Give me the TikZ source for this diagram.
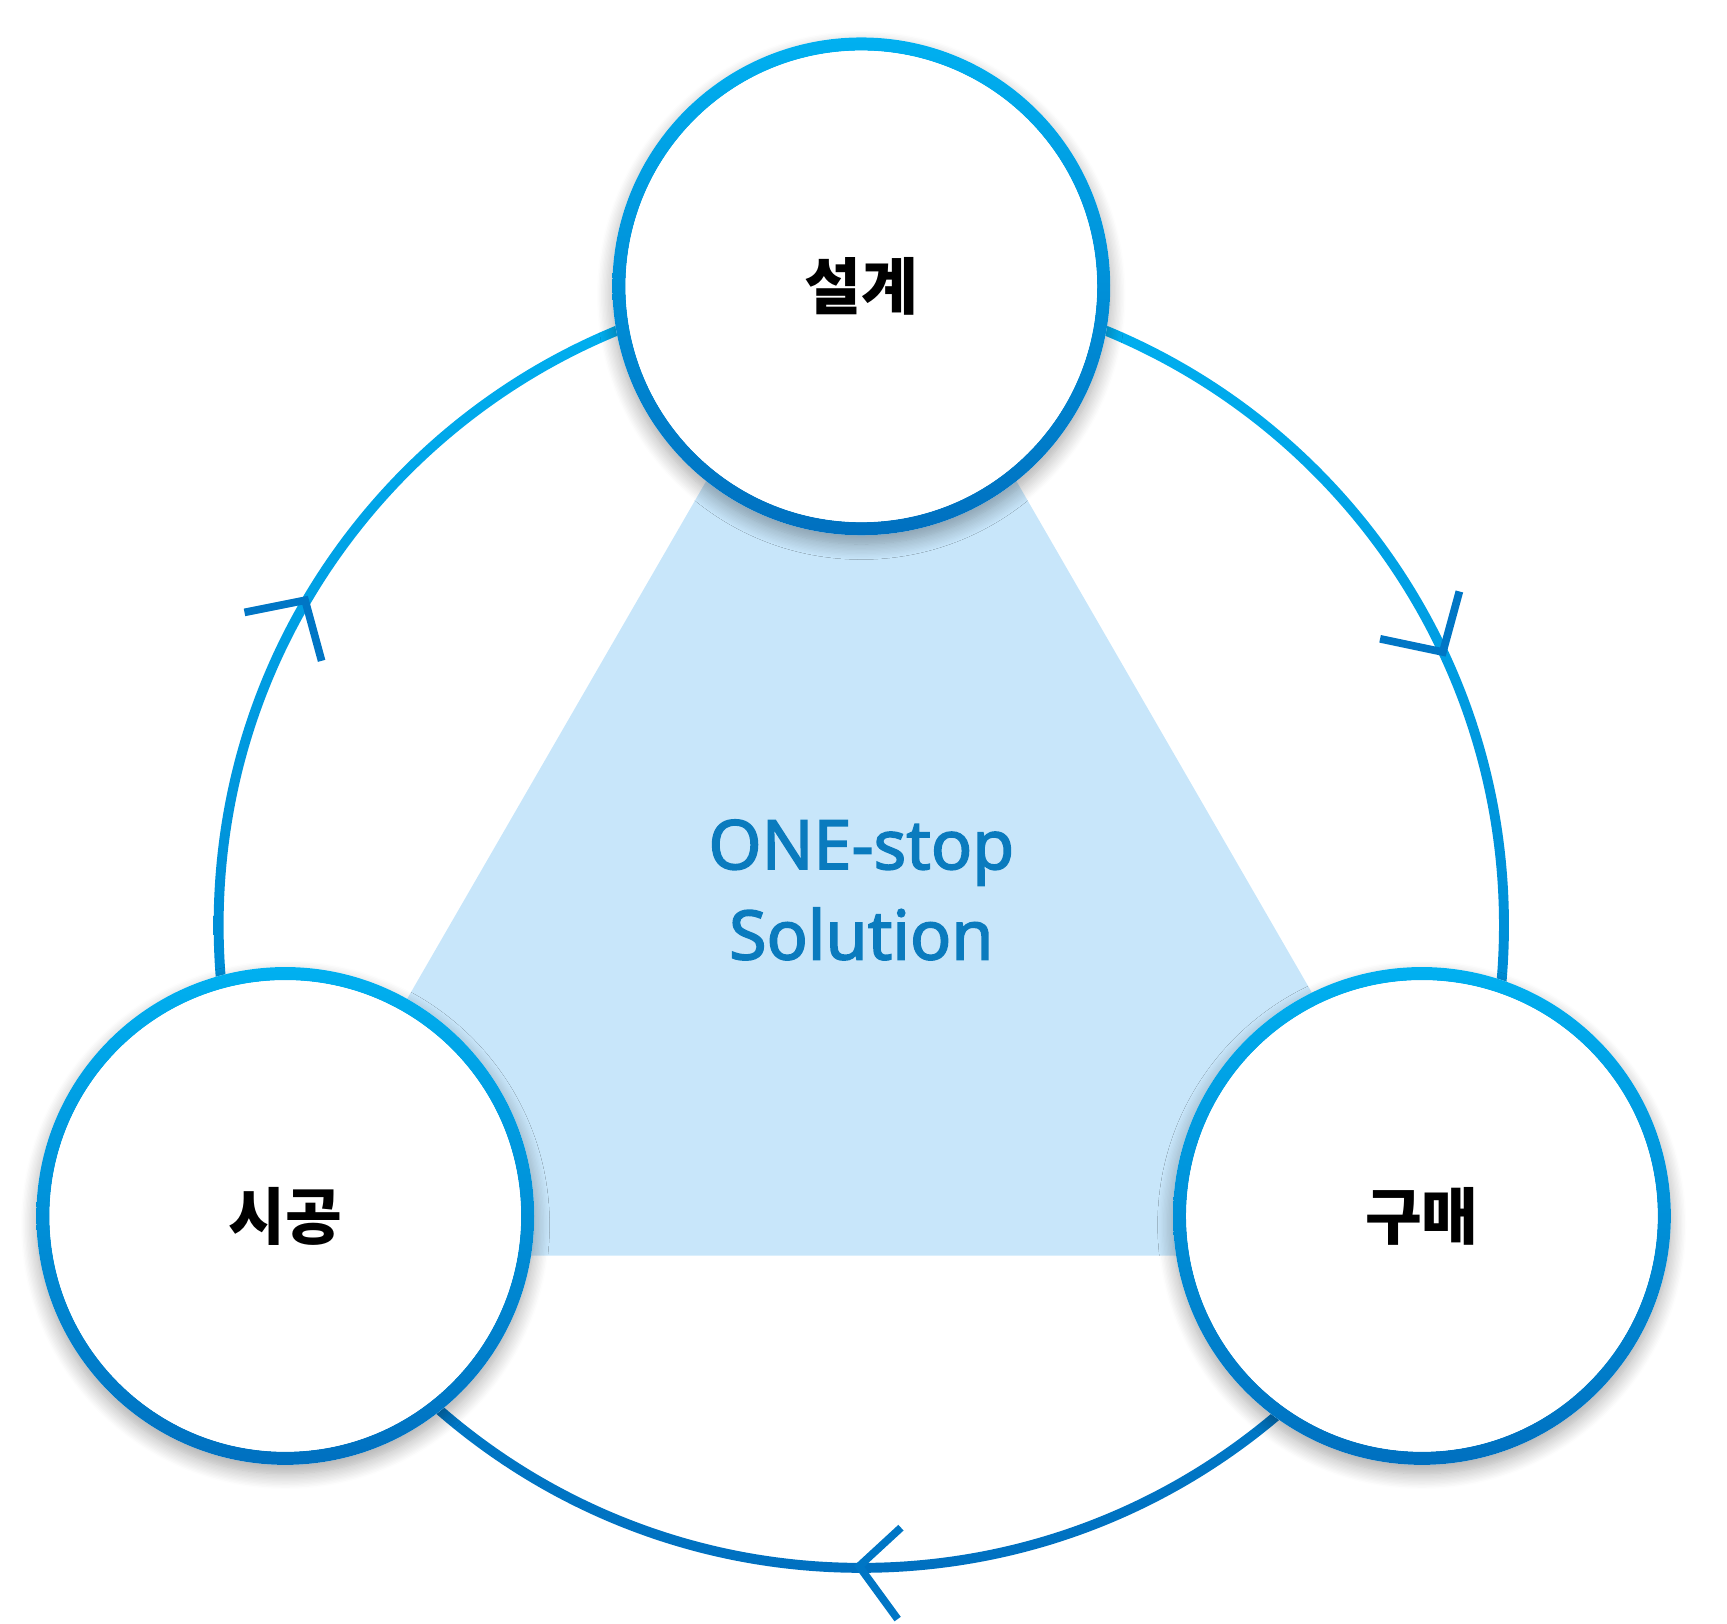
\documentclass[tikz,border=0pt]{standalone}
\usepackage{fontspec}
\setmainfont{Noto Sans CJK KR}
\newfontfamily\enf[FakeBold=2.2]{Noto Sans}
\usetikzlibrary{shadows.blur}
\definecolor{cya}{HTML}{00B0F0}
\definecolor{blu}{HTML}{0070C0}
\definecolor{tri}{HTML}{C8E6FA}
\definecolor{txt}{HTML}{0A7BBE}
\tikzset{
  ring/.style={top color=cya,bottom color=blu,even odd rule},
  inner/.style={fill=white,blur shadow={shadow blur steps=12,shadow xshift=0pt,shadow yshift=-8pt,shadow blur radius=14pt,shadow opacity=35}},
  lbl/.style={font=\fontsize{56}{64}\selectfont\bfseries},
  chev/.style={draw=blu!90!cya,line width=7pt,line join=miter}
}
\begin{document}
\begin{tikzpicture}[x=1pt,y=-1pt]
\useasboundingbox (0,0) rectangle (1568,1474);
\coordinate (C) at (782,840);
\shade[ring] (C) circle (588) (C) circle (579);
\fill[tri] (235,1140) -- (782,193) -- (1329,1140) -- cycle;
\foreach \n/\x/\y in {t/782/260,l/259/1104,r/1291/1104}{
  \path[inner] (\x,\y) circle (226);
  \shade[ring] (\x,\y) circle (226) (\x,\y) circle (214);
  \fill[white] (\x,\y) circle (214);
  \node[lbl,inner sep=0] (\n) at (\x,\y) {};
}
\node[lbl] at (t) {설계};
\node[lbl] at (l) {시공};
\node[lbl] at (r) {구매};
\node[font=\fontsize{62}{82}\selectfont\enf,text=txt,align=center] (c) at (782,808) {ONE-stop\\Solution};
\coordinate (a1) at (1310,592);
\draw[chev] (1325,537) -- (a1) -- (1253,580);
\coordinate (a2) at (780,1422);
\draw[chev] (818,1387) -- (a2) -- (815,1470);
\coordinate (a3) at (277,545);
\draw[chev] (222,556) -- (a3) -- (292,600);
\end{tikzpicture}
\end{document}
